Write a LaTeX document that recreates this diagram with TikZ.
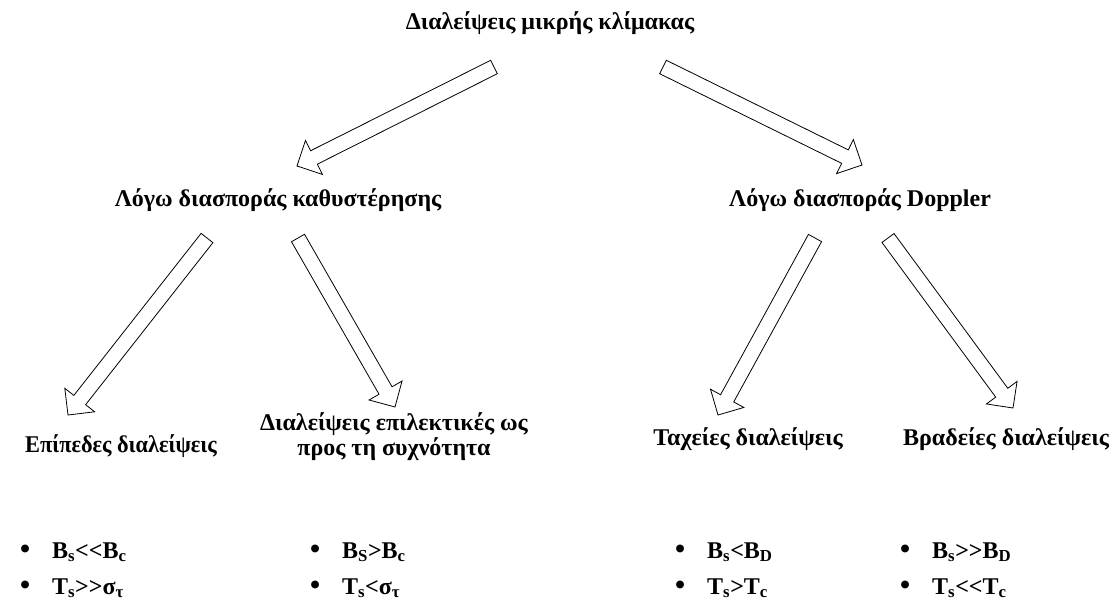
\documentclass[tikz,border=0pt]{standalone}
\usepackage{fontspec}
\setmainfont{Liberation Serif}
\usetikzlibrary{calc}
\tikzset{
  lbl/.style={font=\bfseries\fontsize{24}{25}\selectfont, inner sep=0pt, anchor=base},
  item/.style={font=\bfseries\fontsize{24}{26}\selectfont, inner sep=0pt, anchor=base west},
  arrowline/.style={draw=black, line width=0.8pt, fill=white, line join=miter}
}
\newcommand\blockarrow[2]{%
  \coordinate (ba-h) at ($(#2)!19pt!(#1)$);
  \draw[arrowline] ($(#1)!7.5pt!90:(#2)$) -- ($(ba-h)!7.5pt!-90:(#1)$) -- ($(ba-h)!19pt!-90:(#1)$) -- (#2)
     -- ($(ba-h)!19pt!90:(#1)$) -- ($(ba-h)!7.5pt!90:(#1)$) -- ($(#1)!7.5pt!-90:(#2)$) -- cycle;
}
\newcommand\bul{\makebox[32pt][l]{\raisebox{-0.5pt}{\scalebox{1.2}{\textbullet}}}}
\newcommand\llt{<\kern0pt<}
\newcommand\ggt{>\kern0pt>}
\begin{document}
\begin{tikzpicture}[x=1pt,y=-1pt]
\useasboundingbox[fill=white] (0,0) rectangle (1116,608);
% texts
\node[lbl] (root) at (550,29) {Διαλείψεις μικρής κλίμακας};
\node[lbl] (delay) at (278,206) {Λόγω διασποράς καθυστέρησης};
\node[lbl] (dopp) at (860,206) {Λόγω διασποράς Doppler};
\node[lbl] (flat) at (121,452) {\scalebox{0.93}[1]{Επίπεδες διαλείψεις}};
\node[lbl, align=center] (sel) at (394,455) {Διαλείψεις επιλεκτικές ως\\προς τη συχνότητα};
\node[lbl] (fast) at (748,445) {Ταχείες διαλείψεις};
\node[lbl] (slow) at (1006,445) {Βραδείες διαλείψεις};
% bullet items
\node[item] (f1) at (20,558) {\bul B\textsubscript{s}\llt B\textsubscript{c}};
\node[item] (f2) at (20,594) {\bul T\textsubscript{s}\ggt σ\textsubscript{τ}};
\node[item] (s1) at (310,558) {\bul B\textsubscript{S}>B\textsubscript{c}};
\node[item] (s2) at (310,594) {\bul T\textsubscript{s}<σ\textsubscript{τ}};
\node[item] (q1) at (675,558) {\bul B\textsubscript{s}<B\textsubscript{D}};
\node[item] (q2) at (675,594) {\bul T\textsubscript{s}>T\textsubscript{c}};
\node[item] (w1) at (900,558) {\bul B\textsubscript{s}\ggt B\textsubscript{D}};
\node[item] (w2) at (900,594) {\bul T\textsubscript{s}\llt T\textsubscript{c}};
% arrow end points
\coordinate (t1) at (494,67);  \coordinate (p1) at (297,166);
\coordinate (t2) at (663,67);  \coordinate (p2) at (862,165);
\coordinate (t3) at (207,238); \coordinate (p3) at (68,415);
\coordinate (t4) at (298,238); \coordinate (p4) at (395,407);
\coordinate (t5) at (815,238); \coordinate (p5) at (718,415);
\coordinate (t6) at (888,238); \coordinate (p6) at (1013,408);
\blockarrow{t1}{p1}
\blockarrow{t2}{p2}
\blockarrow{t3}{p3}
\blockarrow{t4}{p4}
\blockarrow{t5}{p5}
\blockarrow{t6}{p6}
\end{tikzpicture}
\end{document}
